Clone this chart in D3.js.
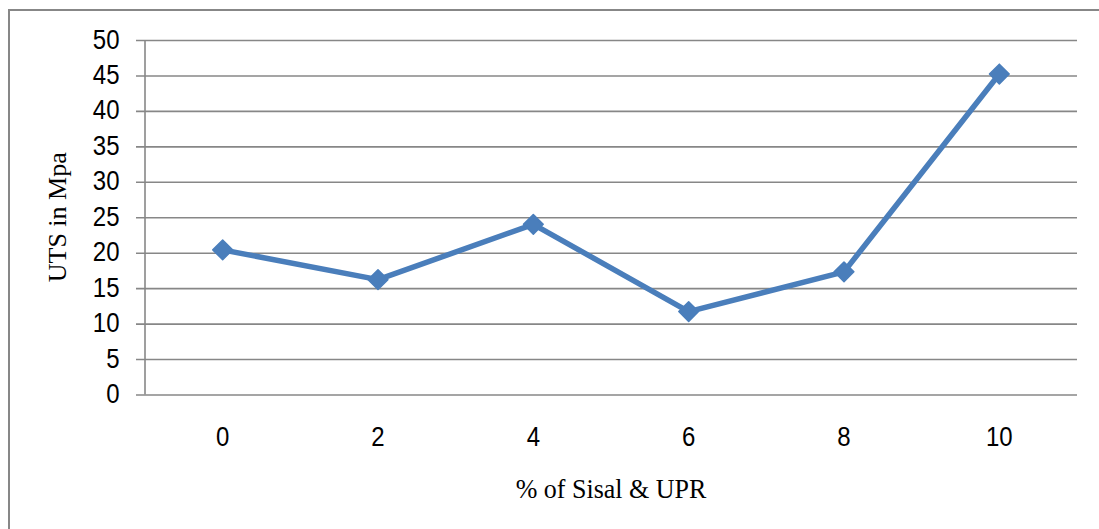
<!DOCTYPE html>
<html>
<head>
<meta charset="utf-8">
<script src="https://cdn.jsdelivr.net/npm/d3@7"></script>
<style>
  body { margin: 0; background: #fff; }
  svg { display: block; }
</style>
</head>
<body>
<figure style="margin:0"></figure>
<script>
// data
const categories = ["0", "2", "4", "6", "8", "10"];
const utsValues = [20.4, 16.2, 24.0, 11.7, 17.3, 45.2];
const yTicks = [0, 5, 10, 15, 20, 25, 30, 35, 40, 45, 50];

const width = 1099;
const height = 529;
const plot = { left: 145, right: 1077, top: 40, bottom: 394.5 };
const stretch = 1.14; // glyphs in the picture are a bit taller than wide

let canvas = d3
  .select("figure")
  .append("svg")
  .attr("width", width)
  .attr("height", height);

// outer chart border, its right and bottom edges fall outside the frame
canvas
  .append("rect")
  .attr("x", 9)
  .attr("y", 10)
  .attr("width", 1120)
  .attr("height", 540)
  .attr("fill", "#fff")
  .attr("stroke", "#878787")
  .attr("stroke-width", 2);

const x = d3
  .scalePoint()
  .domain(categories)
  .range([plot.left, plot.right])
  .padding(0.5);

const y = d3.scaleLinear().domain([0, 50]).range([plot.bottom, plot.top]);

// gridlines + left ticks
const yAxis = canvas
  .append("g")
  .attr("transform", `translate(${plot.left},0)`)
  .call(
    d3
      .axisLeft(y)
      .tickValues(yTicks)
      .tickSize(-(plot.right - plot.left))
      .tickSizeOuter(0)
      .tickFormat("")
  );
yAxis.select(".domain").remove();
yAxis
  .selectAll(".tick line")
  .attr("x1", -9)
  .attr("stroke", "#878787")
  .attr("stroke-width", 1.6);

// vertical axis line
canvas
  .append("line")
  .attr("x1", plot.left)
  .attr("x2", plot.left)
  .attr("y1", y(50))
  .attr("y2", y(0))
  .attr("stroke", "#878787")
  .attr("stroke-width", 1.6);

// y tick labels
canvas
  .selectAll(".ylabel")
  .data(yTicks)
  .enter()
  .append("text")
  .attr("class", "ylabel")
  .attr("transform", (d) => `translate(119.5,${y(d) + 8.5}) scale(1,${stretch})`)
  .attr("text-anchor", "end")
  .attr("font-family", "Liberation Sans, Arial, sans-serif")
  .attr("font-size", 24)
  .attr("fill", "#000")
  .text((d) => d);

// x tick labels
canvas
  .selectAll(".xlabel")
  .data(categories)
  .enter()
  .append("text")
  .attr("class", "xlabel")
  .attr("transform", (d) => `translate(${x(d)},${plot.bottom + 51.5}) scale(1,${stretch})`)
  .attr("text-anchor", "middle")
  .attr("font-family", "Liberation Sans, Arial, sans-serif")
  .attr("font-size", 24)
  .attr("fill", "#000")
  .text((d) => d);

// axis titles
canvas
  .append("text")
  .attr("transform", `translate(${(plot.left + plot.right) / 2},498) scale(1,1.08)`)
  .attr("text-anchor", "middle")
  .attr("font-family", "Liberation Serif, Times New Roman, serif")
  .attr("font-size", 26)
  .attr("fill", "#000")
  .text("% of Sisal & UPR");

canvas
  .append("text")
  .attr("transform", `translate(66,${(plot.top + plot.bottom) / 2}) rotate(-90)`)
  .attr("text-anchor", "middle")
  .attr("font-family", "Liberation Serif, Times New Roman, serif")
  .attr("font-size", 26)
  .attr("fill", "#000")
  .text("UTS in Mpa");

// series line
const line = d3
  .line()
  .x((d, i) => x(categories[i]))
  .y((d) => y(d));

canvas
  .append("path")
  .datum(utsValues)
  .attr("d", line)
  .attr("fill", "none")
  .attr("stroke", "#4a7ebb")
  .attr("stroke-width", 5.5)
  .attr("stroke-linejoin", "round");

// diamond markers
const marker = d3.symbol().type(d3.symbolSquare).size(195);
canvas
  .selectAll(".marker")
  .data(utsValues)
  .enter()
  .append("path")
  .attr("class", "marker")
  .attr("d", marker)
  .attr("transform", (d, i) => `translate(${x(categories[i])},${y(d)}) rotate(45)`)
  .attr("fill", "#4a7ebb")
  .attr("stroke", "#4a7ebb")
  .attr("stroke-width", 1.5)
  .attr("stroke-linejoin", "round");
</script>
</body>
</html>
